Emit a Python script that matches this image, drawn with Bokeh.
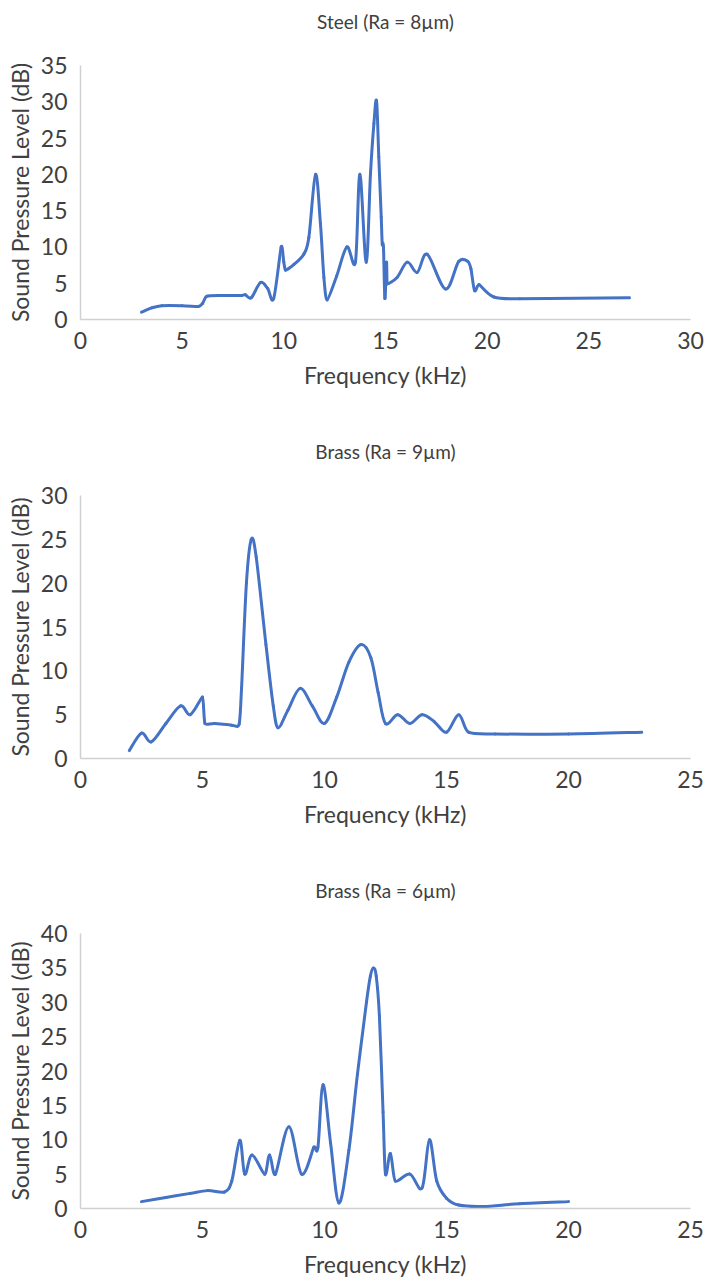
from bokeh.plotting import figure
from bokeh.layouts import column
from bokeh.models import Range1d, SingleIntervalTicker, ColumnDataSource, Title
from bokeh.embed import file_html
from bokeh.resources import INLINE

# ---------------- data ----------------
steel_freq = [3.0, 3.5, 4.0, 5.0, 5.8, 6.0, 6.2, 7.0, 7.9, 8.1, 8.4, 8.85, 9.2, 9.5,
              9.87, 10.0, 10.08, 10.5, 10.98, 11.23, 11.56, 11.8, 11.97, 12.13, 12.6,
              13.1, 13.52, 13.74, 14.05, 14.26, 14.43, 14.56, 14.67, 14.79, 14.84,
              14.9, 14.97, 15.05, 15.08, 15.57, 16.07, 16.56, 17.05, 17.95, 18.6,
              19.05, 19.2, 19.38, 19.6, 20.33, 21.6, 27.0]
steel_spl = [1.0, 1.6, 1.9, 1.9, 1.8, 2.2, 3.2, 3.3, 3.3, 3.4, 3.0, 5.1, 4.3, 2.9,
             10.0, 7.9, 6.8, 7.6, 9.0, 11.3, 20.0, 13.2, 5.8, 2.7, 6.0,
             10.0, 7.9, 20.0, 7.9, 20.0, 27.0, 30.1, 22.4, 14.1, 10.4,
             10.0, 2.9, 7.9, 4.9, 5.8, 7.9, 6.5, 9.0, 4.2, 8.0,
             8.0, 7.0, 4.0, 4.8, 3.1, 2.85, 3.0]

brass9_freq = [2.0, 2.5, 2.9, 3.5, 4.1, 4.5, 5.0, 5.1, 5.5, 6.2, 6.5, 6.6, 6.8, 7.0,
               7.2, 7.6, 7.9, 8.1, 8.5, 9.0, 9.5, 10.0, 10.5, 11.0, 11.5, 11.9, 12.2,
               12.5, 13.0, 13.5, 14.0, 14.5, 15.0, 15.5, 15.9, 17.0, 20.0, 23.0]
brass9_spl = [0.9, 2.9, 1.9, 4.0, 6.0, 5.0, 7.0, 4.0, 4.0, 3.8, 3.9, 8.0, 20.0, 25.0,
              23.0, 13.0, 6.0, 3.5, 5.5, 8.0, 6.0, 4.0, 7.0, 11.0, 13.0, 11.5, 7.5,
              4.0, 5.0, 4.0, 5.0, 4.2, 3.0, 5.0, 3.0, 2.8, 2.8, 3.0]

brass6_freq = [2.5, 3.5, 4.5, 5.2, 5.9, 6.2, 6.53, 6.73, 7.03, 7.55, 7.75, 7.99, 8.54,
               9.06, 9.56, 9.73, 9.94, 10.25, 10.59, 11.0, 11.35, 11.72, 11.88, 12.0,
               12.12, 12.25, 12.4, 12.5, 12.7, 12.9, 13.5, 14.0, 14.3, 14.6, 15.0,
               15.5, 16.5, 18.0, 20.0]
brass6_spl = [1.0, 1.6, 2.2, 2.6, 2.4, 4.0, 9.9, 5.0, 7.8, 5.0, 7.8, 5.0, 11.9,
              5.0, 8.9, 8.9, 18.0, 9.5, 0.8, 8.5, 19.5, 30.0, 33.8, 35.0,
              33.8, 28.0, 14.0, 5.0, 8.0, 4.0, 5.0, 3.0, 10.0, 4.0, 1.5,
              0.5, 0.3, 0.7, 1.0]

titles = ["Steel (Ra = 8\u00b5m)", "Brass (Ra = 9\u00b5m)", "Brass (Ra = 6\u00b5m)"]
x_maxes = [30, 25, 25]
y_maxes = [35, 30, 40]
x_label = "Frequency (kHz)"
y_label = "Sound Pressure Level (dB)"

LINE = "#4472C4"
TEXT = "#404040"
AXIS = "#d0d0d0"
FONT = "Lato"


def smooth_segments(xs, ys, k=1.0 / 6.0):
    """Excel-like smoothed line: cubic Bezier segments (Catmull-Rom control points)."""
    n = len(xs)
    ox, oy = [], []
    for i in range(n):
        a = max(i - 1, 0)
        b = min(i + 1, n - 1)
        dx = (xs[b] - xs[a]) * k
        dy = (ys[b] - ys[a]) * k
        lim = []
        if i > 0:
            lim.append(0.45 * (xs[i] - xs[i - 1]))
        if i < n - 1:
            lim.append(0.45 * (xs[i + 1] - xs[i]))
        m = min(lim)
        if dx > m and dx > 0:
            s = m / dx
            dx *= s
            dy *= s
        ox.append(dx)
        oy.append(dy)
    d = dict(x0=[], y0=[], x1=[], y1=[], cx0=[], cy0=[], cx1=[], cy1=[])
    for i in range(n - 1):
        d["x0"].append(xs[i]); d["y0"].append(ys[i])
        d["x1"].append(xs[i + 1]); d["y1"].append(ys[i + 1])
        d["cx0"].append(xs[i] + ox[i]); d["cy0"].append(ys[i] + oy[i])
        d["cx1"].append(xs[i + 1] - ox[i + 1]); d["cy1"].append(ys[i + 1] - oy[i + 1])
    return ColumnDataSource(d)


def make_fig(title, xmax, ymax, xs, ys, height, top, bottom, gap):
    p = figure(width=710, height=height,
               x_range=Range1d(0, xmax), y_range=Range1d(0, ymax),
               output_backend="svg", toolbar_location=None,
               min_border_left=80, min_border_right=20,
               min_border_top=top, min_border_bottom=bottom)
    p.title = None
    p.outline_line_color = None
    p.background_fill_color = "white"
    p.border_fill_color = "white"
    p.grid.visible = False

    # spacer between the title and the plot frame (first item sits nearest the frame)
    p.add_layout(Title(text=" ", text_font_size=f"{gap}px", standoff=0), "above")
    p.add_layout(Title(text=title, align="center", text_font=FONT,
                       text_font_size="19px", text_font_style="normal",
                       text_color=TEXT, standoff=0), "above")

    p.xaxis.ticker = SingleIntervalTicker(interval=5)
    p.yaxis.ticker = SingleIntervalTicker(interval=5)
    for ax in (p.xaxis, p.yaxis):
        ax.major_tick_line_color = None
        ax.minor_tick_line_color = None
        ax.major_tick_out = 0
        ax.major_tick_in = 0
        ax.axis_line_color = AXIS
        ax.axis_line_width = 1.5
        ax.major_label_text_font = FONT
        ax.major_label_text_font_size = "23px"
        ax.major_label_text_color = TEXT
        ax.axis_label_text_font = FONT
        ax.axis_label_text_font_size = "23px"
        ax.axis_label_text_font_style = "normal"
        ax.axis_label_text_color = TEXT
    p.xaxis.axis_label = x_label
    p.yaxis.axis_label = y_label
    p.xaxis.major_label_standoff = 8
    p.yaxis.major_label_standoff = 9
    p.xaxis.axis_label_standoff = 9
    p.yaxis.axis_label_standoff = 4

    src = smooth_segments(xs, ys)
    p.bezier(x0="x0", y0="y0", x1="x1", y1="y1", cx0="cx0", cy0="cy0",
             cx1="cx1", cy1="cy1", source=src,
             line_color=LINE, line_width=3, line_cap="round")
    return p


p1 = make_fig(titles[0], x_maxes[0], y_maxes[0], steel_freq, steel_spl,
              420, 65, 101, 28)
p2 = make_fig(titles[1], x_maxes[1], y_maxes[1], brass9_freq, brass9_spl,
              440, 75, 102, 28)
p3 = make_fig(titles[2], x_maxes[2], y_maxes[2], brass6_freq, brass6_spl,
              420, 73, 67, 26)

layout = column(p1, p2, p3, spacing=0)

open("out.html", "w").write(file_html(layout, INLINE))
